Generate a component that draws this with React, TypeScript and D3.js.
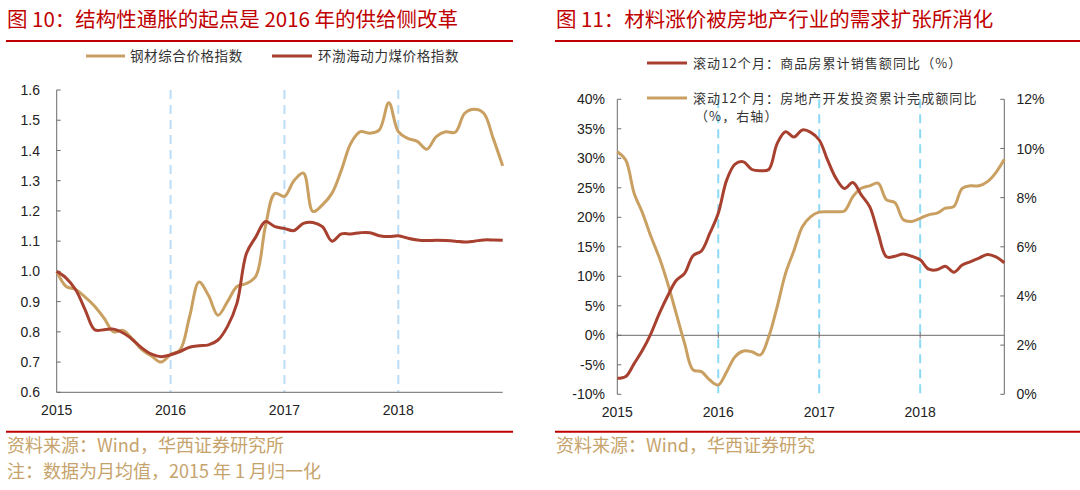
import React from "react";
import * as d3 from "d3";

// ---------- Data ----------
const yearLabels = ["2015", "2016", "2017", "2018"];

// Left chart: monthly, Jan 2015 - Dec 2018 (normalized, Jan 2015 = 1)
const steelIndex = [
  1.0, 0.95, 0.94, 0.915, 0.885, 0.845, 0.8, 0.805, 0.775, 0.74, 0.72, 0.7,
  0.725, 0.74, 0.85, 0.965, 0.92, 0.855, 0.9, 0.95, 0.96, 0.985, 1.15, 1.258,
  1.248, 1.3, 1.325, 1.198, 1.22, 1.258, 1.335, 1.424, 1.462, 1.457, 1.468, 1.558,
  1.462, 1.44, 1.43, 1.404, 1.446, 1.462, 1.46, 1.523, 1.536, 1.523, 1.44, 1.349,
];
const coalIndex = [
  1.0, 0.978, 0.939, 0.873, 0.807, 0.807, 0.809, 0.796, 0.774, 0.746, 0.726, 0.718,
  0.724, 0.735, 0.749, 0.754, 0.757, 0.773, 0.818, 0.895, 1.06, 1.115, 1.165, 1.148,
  1.142, 1.135, 1.159, 1.162, 1.148, 1.1, 1.124, 1.124, 1.128, 1.128, 1.118, 1.115,
  1.118, 1.11, 1.104, 1.102, 1.103, 1.102, 1.1, 1.097, 1.1, 1.104, 1.104, 1.103,
];
const leftTicks = [0.6, 0.7, 0.8, 0.9, 1.0, 1.1, 1.2, 1.3, 1.4, 1.5, 1.6];

// Right chart: monthly, Jan 2015 - Nov 2018
const salesYoY = [
  -7.3, -7.0, -4.8, -2.5, 0.3, 3.7, 6.7, 9.3, 10.5, 13.5, 14.3, 17.3,
  20.7, 26.3, 29.0, 29.4, 28.1, 27.9, 28.1, 32.5, 34.5, 33.6, 34.8, 34.4,
  33.1, 29.7, 26.6, 24.9, 25.9, 23.8, 21.8, 17.3, 13.3, 13.4, 13.8, 13.4,
  12.8, 11.2, 11.1, 11.7, 10.7, 11.9, 12.5, 13.1, 13.7, 13.3, 12.3,
];
const investYoY = [
  9.87, 9.53, 8.18, 7.37, 6.42, 5.55, 4.5, 3.29, 2.07, 0.99, 0.92, 0.58,
  0.38, 0.92, 1.53, 1.76, 1.73, 1.6, 2.34, 3.56, 4.92, 5.85, 6.82, 7.23,
  7.41, 7.43, 7.43, 7.46, 8.04, 8.38, 8.48, 8.59, 7.91, 7.8, 7.1, 7.03,
  7.16, 7.3, 7.37, 7.57, 7.64, 8.38, 8.48, 8.48, 8.65, 9.02, 9.56,
];
const rightLeftTicks = [-10, -5, 0, 5, 10, 15, 20, 25, 30, 35, 40];
const rightRightTicks = [0, 2, 4, 6, 8, 10, 12];

// ---------- Styles ----------
const TAN = "#C9A062";
const RED = "#A8402F";
const TITLE_RED = "#C00000";
const SRC = "#C6A36C";
const NUM_FONT = "'Liberation Sans', Arial, sans-serif";
const CJK_FONT = "'Noto Sans CJK SC', 'Noto Sans', sans-serif";
const TICK_SIZE = 14;

export default function App() {
  // left chart scales
  const xL = d3.scaleLinear().domain([0, 47]).range([56.7, 502.7]);
  const yL = d3.scaleLinear().domain([0.6, 1.6]).range([392.3, 90]);
  const lineL = d3
    .line<number>()
    .x((_, i) => xL(i))
    .y((d) => yL(d))
    .curve(d3.curveCatmullRom.alpha(0.5));

  // right chart scales
  const xR = d3.scaleLinear().domain([0, 46]).range([617.3, 1004.3]);
  const yRL = d3.scaleLinear().domain([-10, 40]).range([394.3, 99.3]);
  const yRR = d3.scaleLinear().domain([0, 12]).range([394.3, 99.3]);
  const lineSales = d3
    .line<number>()
    .x((_, i) => xR(i))
    .y((d) => yRL(d))
    .curve(d3.curveCatmullRom.alpha(0.5));
  const lineInvest = d3
    .line<number>()
    .x((_, i) => xR(i))
    .y((d) => yRR(d))
    .curve(d3.curveCatmullRom.alpha(0.5));

  const axisColor = "#6b6b6b";

  return (
    <svg
      width={1080}
      height={490}
      style={{ position: "fixed", left: 0, top: 0, background: "#fff" }}
    >
      <rect width={1080} height={490} fill="#fff" />
      {/* Titles */}
      <text x={7} y={27} fill={TITLE_RED} fontFamily={CJK_FONT} fontSize={20.5}>
        图 10：结构性通胀的起点是 2016 年的供给侧改革
      </text>
      <line x1={6} x2={513} y1={41} y2={41} stroke={TITLE_RED} strokeWidth={2} />
      <text x={556} y={27} fill={TITLE_RED} fontFamily={CJK_FONT} fontSize={20.5}>
        图 11：材料涨价被房地产行业的需求扩张所消化
      </text>
      <line x1={555} x2={1080} y1={41} y2={41} stroke={TITLE_RED} strokeWidth={2} />

      {/* ---------- Left chart ---------- */}
      {/* legend */}
      <line x1={86} x2={125} y1={56} y2={56} stroke={TAN} strokeWidth={3} />
      <text x={130} y={61} fontFamily={CJK_FONT} fontSize={13.5} fill="#333" letterSpacing={0.6}>
        钢材综合价格指数
      </text>
      <line x1={272} x2={312} y1={56} y2={56} stroke={RED} strokeWidth={3} />
      <text x={318} y={61} fontFamily={CJK_FONT} fontSize={13.5} fill="#333" letterSpacing={0.6}>
        环渤海动力煤价格指数
      </text>

      {/* year dashed lines */}
      {[12, 24, 36].map((m) => (
        <line
          key={"ld" + m}
          x1={xL(m)}
          x2={xL(m)}
          y1={yL(1.6)}
          y2={yL(0.6)}
          stroke="#BBDDF7"
          strokeWidth={2}
          strokeDasharray="9 6"
        />
      ))}
      {/* axes */}
      <line x1={xL(0)} x2={xL(0)} y1={yL(1.6)} y2={yL(0.6)} stroke={axisColor} strokeWidth={1} />
      <line x1={xL(0)} x2={xL(47)} y1={yL(0.6)} y2={yL(0.6)} stroke={axisColor} strokeWidth={1} />
      {leftTicks.map((t) => (
        <g key={"lt" + t}>
          <line x1={xL(0)} x2={xL(0) + 4} y1={yL(t)} y2={yL(t)} stroke={axisColor} />
          <text
            x={40}
            y={yL(t)}
            dy="0.36em"
            textAnchor="end"
            fontFamily={NUM_FONT}
            fontSize={TICK_SIZE}
            fill="#222"
          >
            {t.toFixed(1)}
          </text>
        </g>
      ))}
      {yearLabels.map((y, i) => (
        <text
          key={"lx" + y}
          x={xL(i * 12)}
          y={415}
          textAnchor="middle"
          fontFamily={NUM_FONT}
          fontSize={TICK_SIZE}
          fill="#222"
        >
          {y}
        </text>
      ))}
      {/* series */}
      <path d={lineL(steelIndex) || ""} fill="none" stroke={TAN} strokeWidth={3} strokeLinejoin="round" />
      <path d={lineL(coalIndex) || ""} fill="none" stroke={RED} strokeWidth={3} strokeLinejoin="round" />

      {/* footer left */}
      <line x1={6} x2={513} y1={431.7} y2={431.7} stroke={TITLE_RED} strokeWidth={2} />
      <text x={7} y={452} fontFamily={CJK_FONT} fontSize={18} fill={SRC}>
        资料来源：Wind，华西证券研究所
      </text>
      <text x={7} y={478} fontFamily={CJK_FONT} fontSize={18} fill={SRC}>
        注：数据为月均值，2015 年 1 月归一化
      </text>

      {/* ---------- Right chart ---------- */}
      {[12, 24, 36].map((m) => (
        <line
          key={"rd" + m}
          x1={xR(m)}
          x2={xR(m)}
          y1={yRL(40)}
          y2={yRL(-10)}
          stroke="#8DDAF6"
          strokeWidth={2}
          strokeDasharray="9 6"
        />
      ))}
      {/* left axis */}
      <line x1={xR(0)} x2={xR(0)} y1={yRL(40)} y2={yRL(-10)} stroke={axisColor} />
      {rightLeftTicks.map((t) => (
        <g key={"rl" + t}>
          <line x1={xR(0)} x2={xR(0) + 4} y1={yRL(t)} y2={yRL(t)} stroke={axisColor} />
          <text
            x={605}
            y={yRL(t)}
            dy="0.36em"
            textAnchor="end"
            fontFamily={NUM_FONT}
            fontSize={TICK_SIZE}
            fill="#222"
          >
            {t + "%"}
          </text>
        </g>
      ))}
      {/* right axis */}
      <line x1={xR(46)} x2={xR(46)} y1={yRR(12)} y2={yRR(0)} stroke={axisColor} />
      {rightRightTicks.map((t) => (
        <g key={"rr" + t}>
          <line x1={xR(46) - 4} x2={xR(46)} y1={yRR(t)} y2={yRR(t)} stroke={axisColor} />
          <text
            x={1016.5}
            y={yRR(t)}
            dy="0.36em"
            textAnchor="start"
            fontFamily={NUM_FONT}
            fontSize={TICK_SIZE}
            fill="#222"
          >
            {t + "%"}
          </text>
        </g>
      ))}
      {/* zero line */}
      <line x1={xR(0)} x2={xR(46)} y1={yRL(0)} y2={yRL(0)} stroke={axisColor} />
      {[0, 12, 24, 36].map((m) => (
        <line key={"zt" + m} x1={xR(m)} x2={xR(m)} y1={yRL(0) - 3} y2={yRL(0) + 3} stroke={axisColor} />
      ))}
      {yearLabels.map((y, i) => (
        <text
          key={"rx" + y}
          x={xR(i * 12)}
          y={417}
          textAnchor="middle"
          fontFamily={NUM_FONT}
          fontSize={TICK_SIZE}
          fill="#222"
        >
          {y}
        </text>
      ))}
      {/* series */}
      <path d={lineInvest(investYoY) || ""} fill="none" stroke={TAN} strokeWidth={3} strokeLinejoin="round" />
      <path d={lineSales(salesYoY) || ""} fill="none" stroke={RED} strokeWidth={3} strokeLinejoin="round" />

      {/* legend */}
      <line x1={647} x2={687} y1={63} y2={63} stroke={RED} strokeWidth={3} />
      <text x={693} y={68} fontFamily={CJK_FONT} fontSize={13} fill="#333" letterSpacing={1.1}>
        滚动12个月：商品房累计销售额同比（%）
      </text>
      <line x1={647} x2={687} y1={98} y2={98} stroke={TAN} strokeWidth={3} />
      <text x={693} y={103} fontFamily={CJK_FONT} fontSize={13} fill="#333" letterSpacing={1.1}>
        滚动12个月：房地产开发投资累计完成额同比
      </text>
      <text x={695} y={121} fontFamily={CJK_FONT} fontSize={13} fill="#333" letterSpacing={1.1}>
        （%，右轴）
      </text>

      {/* footer right */}
      <line x1={555} x2={1080} y1={431.7} y2={431.7} stroke={TITLE_RED} strokeWidth={2} />
      <text x={556} y={452} fontFamily={CJK_FONT} fontSize={18} fill={SRC}>
        资料来源：Wind，华西证券研究
      </text>
    </svg>
  );
}
